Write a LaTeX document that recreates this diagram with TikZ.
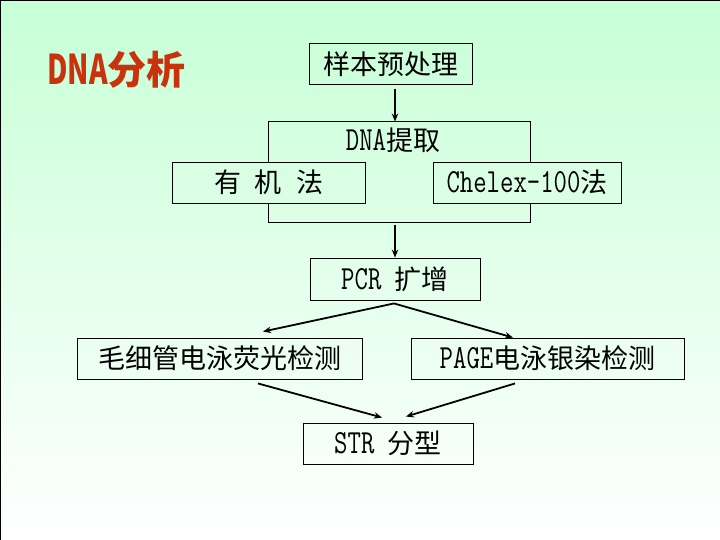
\documentclass[tikz,border=0pt]{standalone}
\usepackage{fontspec}
\usetikzlibrary{arrows.meta,calc}
\newfontfamily\cjk{Noto Sans CJK SC}
\newfontfamily\lat{Latin Modern Mono}[Scale=1.25,FakeStretch=0.77]
\definecolor{bgtop}{RGB}{198,255,214}
\definecolor{titlered}{RGB}{200,50,12}
\tikzset{
  box/.style={draw=black,line width=0.9pt,inner sep=0pt,minimum height=41pt,
    font=\fontsize{27}{30}\selectfont},
  arr/.style={line width=1.8pt,-{Stealth[length=8pt,width=6.5pt]}},
  x=1pt,y=-1pt
}
\begin{document}
\begin{tikzpicture}
\useasboundingbox (0,0) rectangle (720,540);
\shade[top color=bgtop,bottom color=white] (0,0) rectangle (720,540);
\draw[line width=1.5pt] (0,540) -- (0,0) -- (720,0);

\node[anchor=west,text=titlered,font=\fontsize{39}{41}\selectfont\cjk\bfseries,inner sep=0pt] (title) at (47,70) {\scalebox{0.72}[1.05]{DNA}分析};

\node[box,minimum width=163pt] (pre) at (391,64) {\cjk 样本预处理};
\node[box,draw=none,minimum width=261pt,minimum height=100pt] (ext) at (399.5,172) {};
\node[inner sep=0pt,font=\fontsize{27}{30}\selectfont] (extl) at (393,140) {{\lat DNA}{\cjk 提取}};
\node[box,minimum width=193pt] (org) at (268.5,182.5) {\cjk 有\hspace{14pt}机\hspace{14pt}法};
\node[box,minimum width=188pt] (che) at (527,182.5) {{\lat Chelex-100}{\cjk 法}};
\draw[line width=0.9pt] (ext.north west |- org.north) -- (ext.north west) -- (ext.north east) -- (ext.north east |- che.north);
\draw[line width=0.9pt] (ext.south west |- org.south) -- (ext.south west) -- (ext.south east) -- (ext.south east |- che.south);

\node[box,minimum width=170pt,minimum height=42pt] (pcr) at (395,279) {{\lat PCR }{\cjk 扩增}};
\node[box,minimum width=285pt] (cap) at (219.5,358.5) {\cjk 毛细管电泳荧光检测};
\node[box,minimum width=273pt] (page) at (547.5,358.5) {{\lat PAGE}{\cjk 电泳银染检测}};
\node[box,minimum width=170pt] (str) at (388,443.5) {{\lat STR }{\cjk 分型}};

\draw[arr] ([yshift=-4pt]pre.south -| pcr.north) -- (ext.north -| pcr.north);
\draw[arr] ([yshift=-3pt]ext.south -| pcr.north) -- (pcr.north);
\draw[arr] ([xshift=-1pt,yshift=-3pt]pcr.south) -- ([xshift=43.5pt,yshift=6pt]cap.north);
\draw[arr] ([xshift=-1pt,yshift=-3pt]pcr.south) -- ([xshift=-34.5pt]page.north);
\draw[arr] ([xshift=38.5pt,yshift=-4pt]cap.south) -- ([xshift=-6pt,yshift=5pt]str.north);
\draw[arr] ([xshift=-32.5pt,yshift=-4pt]page.south) -- ([xshift=18pt,yshift=6pt]str.north);
\end{tikzpicture}
\end{document}
